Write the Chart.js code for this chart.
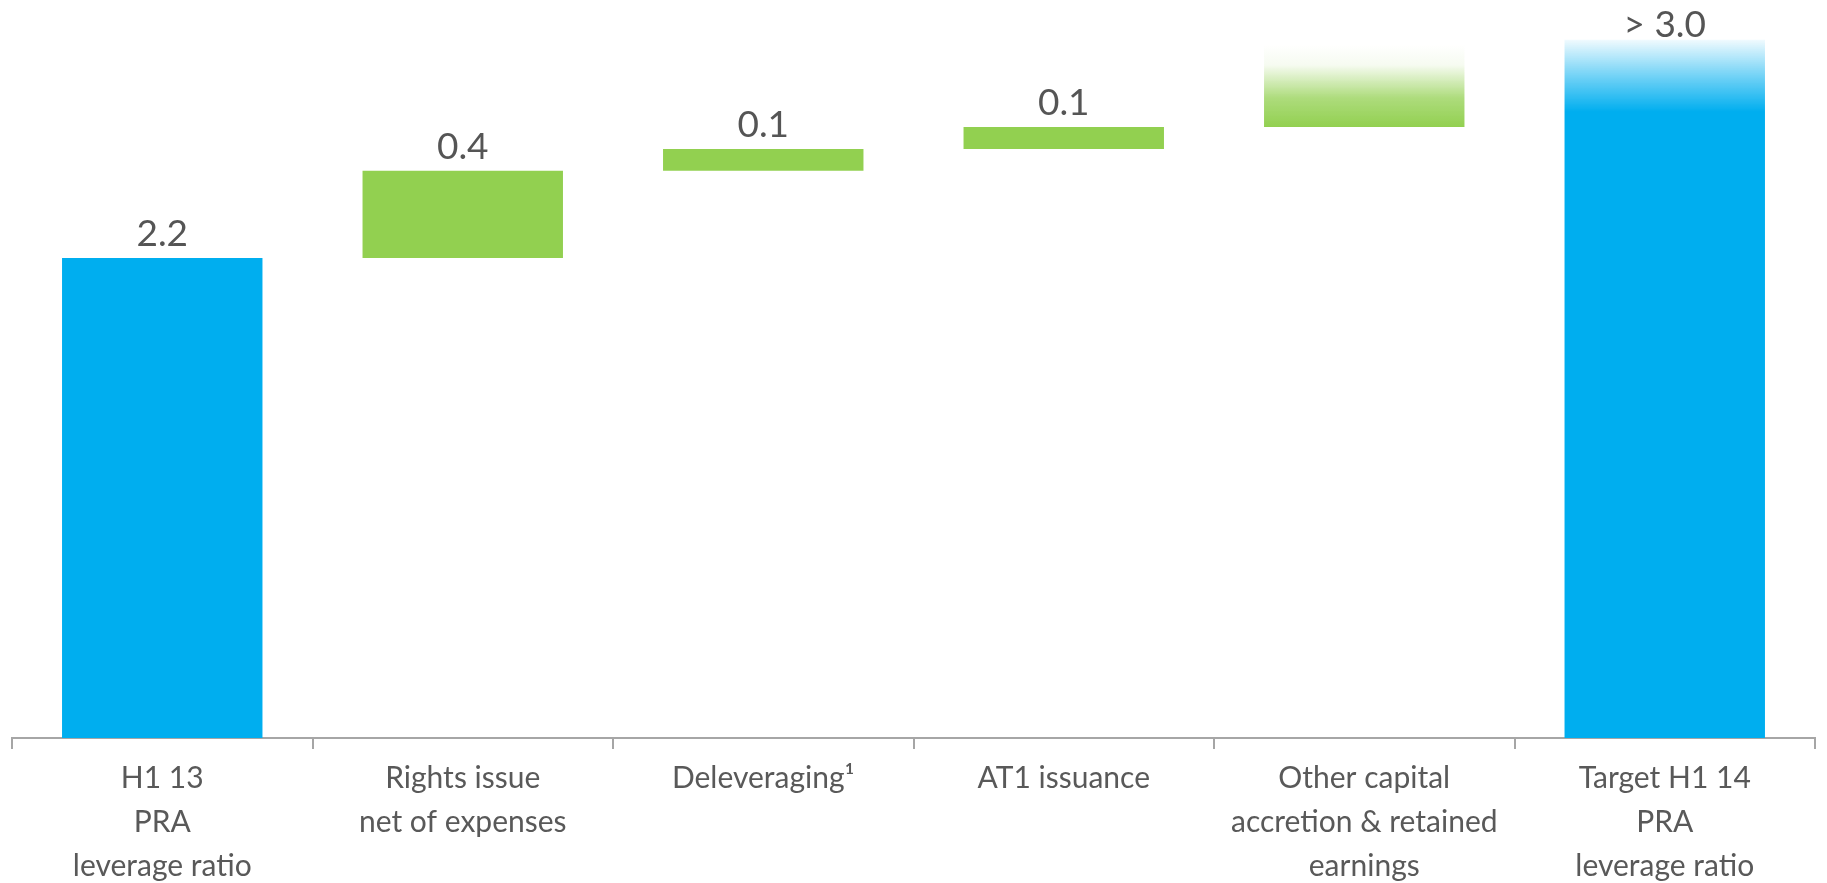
<!DOCTYPE html>
<html>
<head>
<meta charset="utf-8">
<script src="https://cdn.jsdelivr.net/npm/chart.js@4"></script>
<style>
  html, body { margin: 0; padding: 0; background: #fff; }
  #wrap { width: 1827px; height: 883px; }
</style>
</head>
<body>
<div id="wrap"><canvas id="chart-leverage"></canvas></div>
<script>
// categories (multi-line tick labels)
var categories = [
  ["H1 13", "PRA", "leverage ratio"],
  ["Rights issue", "net of expenses"],
  "Deleveraging\u00B9",
  "AT1 issuance",
  ["Other capital", "accretion & retained", "earnings"],
  ["Target H1 14", "PRA", "leverage ratio"]
];
// waterfall: where each bar starts and ends (%)
var barBottoms = [0, 2.2, 2.6, 2.7, 2.8, 0];
var barTops = [2.2, 2.6, 2.7, 2.8, 3.18, 3.2];
var valueLabels = ["2.2", "0.4", "0.1", "0.1", "", "> 3.0"];
// bars that fade out at the top, and where the fade begins
var fadeFrom = [null, null, null, null, 2.8, 2.87];

var blue = "#00aeef";
var green = "#92d050";
var barColors = [blue, green, green, green, green, blue];

var barData = barBottoms.map(function (b, i) { return [b, barTops[i]]; });

function fadeColor(c) {
  var chart = c.chart;
  var i = c.dataIndex;
  if (!chart.chartArea || fadeFrom[i] === null) return barColors[i];
  var y = chart.scales.y;
  var y0 = y.getPixelForValue(fadeFrom[i]);
  var y1 = y.getPixelForValue(barTops[i]);
  var g = chart.ctx.createLinearGradient(0, y0, 0, y1);
  if (i === 4) {
    g.addColorStop(0, "rgba(146,208,80,1)");
    g.addColorStop(0.35, "rgba(146,208,80,0.75)");
    g.addColorStop(0.75, "rgba(146,208,80,0.08)");
    g.addColorStop(1, "rgba(146,208,80,0)");
  } else {
    g.addColorStop(0, "rgba(0,174,239,1)");
    g.addColorStop(0.5, "rgba(0,174,239,0.55)");
    g.addColorStop(1, "rgba(0,174,239,0.06)");
  }
  return g;
}

var valueLabelPlugin = {
  id: "valueLabels",
  afterDatasetsDraw: function (chart) {
    var ctx = chart.ctx;
    var meta = chart.getDatasetMeta(0);
    ctx.save();
    ctx.fillStyle = "#555555";
    ctx.font = "37px Lato";
    ctx.textAlign = "center";
    ctx.textBaseline = "alphabetic";
    meta.data.forEach(function (bar, i) {
      if (!valueLabels[i]) return;
      var gap = i === meta.data.length - 1 ? 3 : 12;
      ctx.fillText(valueLabels[i], bar.x, bar.y - gap);
    });
    ctx.restore();
  }
};

new Chart("chart-leverage", {
  type: "bar",
  data: {
    labels: categories,
    datasets: [{
      data: barData,
      backgroundColor: fadeColor,
      borderWidth: 0,
      categoryPercentage: 1,
      barPercentage: 0.667
    }]
  },
  options: {
    responsive: true,
    maintainAspectRatio: false,
    animation: false,
    layout: { padding: { left: 12, right: 12, top: 18, bottom: 0 } },
    plugins: {
      legend: { display: false },
      tooltip: { enabled: false }
    },
    scales: {
      y: {
        display: false,
        min: 0,
        max: 3.3
      },
      x: {
        afterFit: function (scale) { scale.height = 145; },
        grid: {
          offset: true,
          drawOnChartArea: false,
          drawTicks: true,
          tickLength: 11,
          color: "#a6a6a6",
          lineWidth: 2
        },
        border: { display: true, color: "#a6a6a6", width: 2 },
        ticks: {
          color: "#595959",
          font: { family: "Lato", size: 30, lineHeight: 1.47 },
          padding: 7,
          maxRotation: 0,
          autoSkip: false
        }
      }
    }
  },
  plugins: [valueLabelPlugin]
});
</script>
</body>
</html>
